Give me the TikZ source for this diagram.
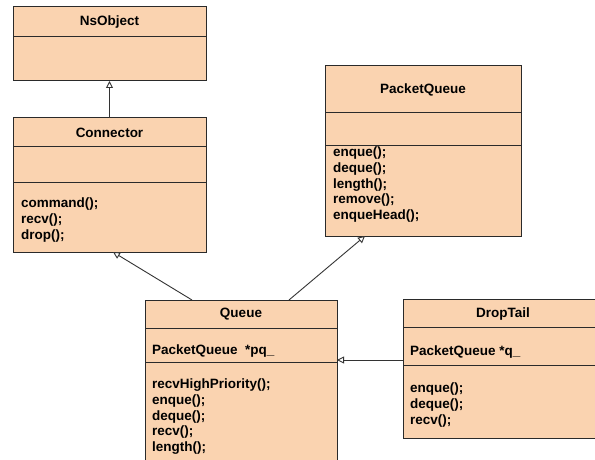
\documentclass[tikz,border=0pt]{standalone}
\usepackage{fontspec}
\setmainfont{Liberation Sans}
\usetikzlibrary{arrows.meta,calc}
\definecolor{boxfill}{HTML}{FAD3B0}
\definecolor{edge}{HTML}{2A2A2A}
\definecolor{wire}{HTML}{333333}
\begin{document}
\begin{tikzpicture}[x=1pt,y=-1pt,
  umlbox/.style={draw=edge, fill=boxfill, line width=1pt, anchor=north west, inner sep=0pt, outer sep=0pt},
  umltitle/.style={font=\bfseries\fontsize{13.5}{15.6}\selectfont, anchor=base, inner sep=0pt},
  members/.style={font=\bfseries\fontsize{13.5}{15.6}\selectfont, align=left, anchor=north west, inner sep=0pt},
  attr/.style={font=\bfseries\fontsize{13.5}{15.6}\selectfont, anchor=base west, inner sep=0pt},
  divider/.style={draw=edge, line width=1pt},
  inherit/.style={draw=wire, line width=0.9pt, -{Triangle[open, length=7pt, width=7pt, fill=white]}}
]
\clip (0,0) rectangle (595,460);
\fill[white] (0,0) rectangle (595,460);

% boxes
\node[umlbox, minimum width=193pt, minimum height=74pt] (nsobject) at (13,7) {};
\node[umlbox, minimum width=193pt, minimum height=134pt] (connector) at (13,118) {};
\node[umlbox, minimum width=196pt, minimum height=170pt] (packetqueue) at (325,66) {};
\node[umlbox, minimum width=192pt, minimum height=180pt] (queue) at (145,300) {};
\node[umlbox, minimum width=200pt, minimum height=139pt] (droptail) at (403,299) {};

% dividers
\draw[divider] (nsobject.west |- 0,37) -- (nsobject.east |- 0,37);
\draw[divider] (connector.west |- 0,146) -- (connector.east |- 0,146);
\draw[divider] (connector.west |- 0,182) -- (connector.east |- 0,182);
\draw[divider] (packetqueue.west |- 0,113) -- (packetqueue.east |- 0,113);
\draw[divider] (packetqueue.west |- 0,145) -- (packetqueue.east |- 0,145);
\draw[divider] (queue.west |- 0,328) -- (queue.east |- 0,328);
\draw[divider] (queue.west |- 0,362) -- (queue.east |- 0,362);
\draw[divider] (droptail.west |- 0,327) -- (droptail.east |- 0,327);
\draw[divider] (droptail.west |- 0,365) -- (droptail.east |- 0,365);

% titles
\node[umltitle] (tnsobject) at (nsobject.north |- 0,26) {NsObject};
\node[umltitle] (tconnector) at (connector.north |- 0,137) {Connector};
\node[umltitle] (tpacketqueue) at (packetqueue.north |- 0,94) {PacketQueue};
\node[umltitle] (tqueue) at (queue.north |- 0,317) {Queue};
\node[umltitle] (tdroptail) at (droptail.north |- 0,317) {DropTail};

% attributes
\node[attr] (aqueue) at (152,354) {PacketQueue\ \ *pq\_};
\node[attr] (adroptail) at (410,355) {PacketQueue *q\_};

% methods
\node[members] (mconnector) at (21,198) {command();\\recv();\\drop();};
\node[members] (mpacketqueue) at (333,147) {enque();\\deque();\\length();\\remove();\\enqueHead();};
\node[members] (mqueue) at (152,379) {recvHighPriority();\\enque();\\deque();\\recv();\\length();};
\node[members] (mdroptail) at (410,383) {enque();\\deque();\\recv();};

% inheritance connectors
\draw[inherit] (connector.north) -- (nsobject.south);
\draw[inherit] ([xshift=47pt]queue.north west) -- ([xshift=100pt]connector.south west);
\draw[inherit] ([xshift=144pt]queue.north west) -- ([xshift=40pt]packetqueue.south west);
\draw[inherit] (droptail.west |- 0,360) -- (queue.east |- 0,360);
\end{tikzpicture}
\end{document}
